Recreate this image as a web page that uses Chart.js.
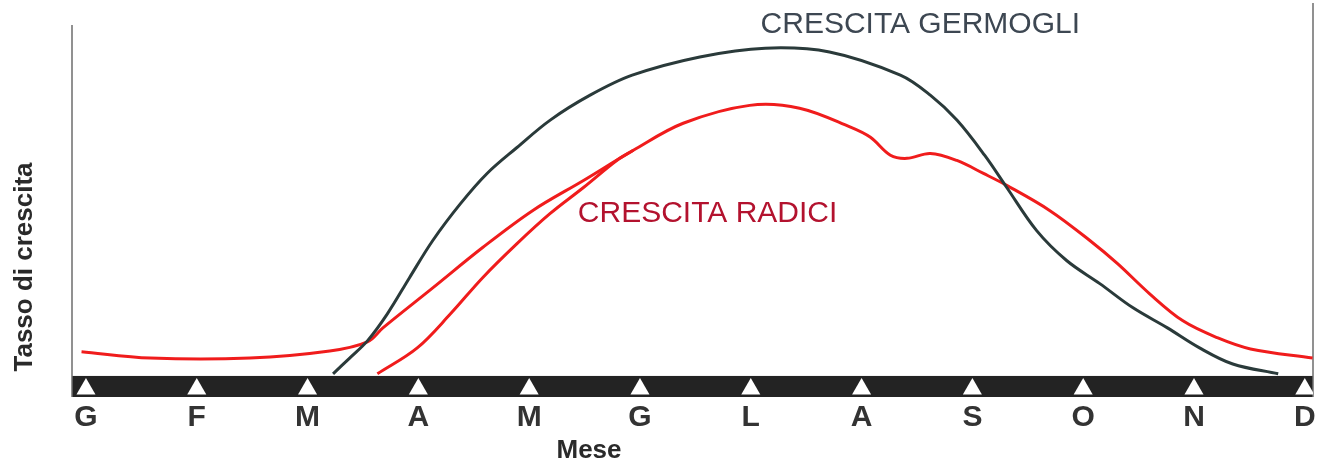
<!DOCTYPE html>
<html lang="it">
<head>
   <meta charset="UTF-8">
   <title>Crescita germogli e radici</title>
   <script src="https://cdn.jsdelivr.net/npm/chart.js"></script>
   <style>
      body {
         margin: 0;
         padding: 0;
         background: #fff;
      }
      .wrap {
         width: 1326px;
         height: 464px;
      }
   </style>
</head>
<body>
   <div class="wrap">
      <canvas id="growthChart" width="1326" height="464"></canvas>
   </div>

   <script>
      // months (index 0 = G ... 11 = D)
      const months = ["G", "F", "M", "A", "M", "G", "L", "A", "S", "O", "N", "D"];

      // shoot growth (crescita germogli), x = month index, y = rate
      const germogliX = [2.23, 2.38, 2.54, 2.72, 2.92, 3.13, 3.38, 3.62, 3.89, 4.19, 4.55, 4.93, 5.54, 6.13, 6.71, 7.35, 7.62, 7.86, 8.11, 8.31, 8.58, 8.85, 9.15, 9.45, 9.76, 10.05, 10.35, 10.76];
      const germogliY = [0.6, 5.1, 10, 17.7, 28, 38.6, 49.1, 57.7, 65.1, 72.9, 80, 85.7, 90.9, 93.4, 92.3, 85.7, 80, 72.9, 62.9, 53.7, 41.4, 32.9, 26.3, 19.4, 13.7, 8, 3.4, 0.6];

      // root growth (crescita radici), full year curve
      const radiciX = [-0.04, 0.58, 1.48, 2.2, 2.54, 2.68, 3.13, 3.58, 4.03, 4.49, 4.94, 5.39, 5.99, 6.44, 6.9, 7.08, 7.26, 7.41, 7.62, 7.86, 8.1, 8.31, 8.7, 9.06, 9.31, 9.6, 9.9, 10.21, 10.51, 11.07];
      const radiciY = [6.9, 5.1, 5.1, 7.1, 9.7, 13.7, 25.1, 36.6, 47.1, 55.7, 64.3, 72, 77.1, 76.3, 70.9, 68, 62.9, 62, 63.4, 61.4, 57.7, 54.3, 47.1, 38.6, 32, 23.4, 15.7, 10.9, 7.7, 5.1];

      // second root branch, starting in spring
      const radici2X = [2.63, 2.99, 3.29, 3.58, 3.89, 4.19, 4.49, 4.79, 4.94];
      const radici2Y = [0.6, 8, 17.7, 28, 37.7, 46.3, 53.7, 61.4, 64.3];

      // white month markers inside the black band
      const markerY = -3.7;

      const toPoints = (xs, ys) => xs.map((x, i) => ({ x: x, y: ys[i] }));
      const FONT = "'Liberation Sans', Arial, sans-serif";

      // black band, frame lines and free texts
      const decor = {
         id: 'decor',
         beforeDatasetsDraw(chart) {
            const { ctx, chartArea, scales } = chart;
            const y0 = scales.y.getPixelForValue(0);
            ctx.save();
            ctx.fillStyle = '#232323';
            ctx.fillRect(chartArea.left, y0, chartArea.right - chartArea.left, chartArea.bottom - y0);
            ctx.strokeStyle = '#6e6e6e';
            ctx.lineWidth = 1.5;
            ctx.beginPath();
            ctx.moveTo(chartArea.left, chartArea.top);
            ctx.lineTo(chartArea.left, chartArea.bottom);
            ctx.moveTo(chartArea.right, 3);
            ctx.lineTo(chartArea.right, chartArea.bottom);
            ctx.stroke();
            ctx.restore();
         },
         afterDraw(chart) {
            const { ctx, scales } = chart;
            const x = scales.x, y = scales.y;
            ctx.save();
            ctx.textAlign = 'center';
            ctx.textBaseline = 'middle';

            ctx.font = '30px ' + FONT;
            ctx.fillStyle = '#3d4752';
            ctx.fillText('CRESCITA GERMOGLI', x.getPixelForValue(7.53), 25);
            ctx.fillStyle = '#b3122e';
            ctx.fillText('CRESCITA RADICI', x.getPixelForValue(5.61), y.getPixelForValue(46.3));

            ctx.font = 'bold 26px ' + FONT;
            ctx.fillStyle = '#2a2a2a';
            ctx.fillText('Mese', 589, 451);

            ctx.translate(25, 267);
            ctx.rotate(-Math.PI / 2);
            ctx.fillText('Tasso di crescita', 0, 0);
            ctx.restore();
         }
      };

      new Chart(document.getElementById('growthChart'), {
         type: 'line',
         data: {
            datasets: [
               {
                  label: 'Crescita germogli',
                  data: toPoints(germogliX, germogliY),
                  borderColor: '#2a3a3a',
                  borderWidth: 3,
                  pointRadius: 0,
                  tension: 0.35,
                  fill: false
               },
               {
                  label: 'Crescita radici',
                  data: toPoints(radiciX, radiciY),
                  borderColor: '#f01c1c',
                  borderWidth: 3,
                  pointRadius: 0,
                  tension: 0.35,
                  fill: false
               },
               {
                  label: 'Crescita radici (2)',
                  data: toPoints(radici2X, radici2Y),
                  borderColor: '#f01c1c',
                  borderWidth: 3,
                  pointRadius: 0,
                  tension: 0.35,
                  fill: false
               },
               {
                  label: 'Mesi',
                  data: months.map((m, i) => ({ x: i, y: markerY })),
                  showLine: false,
                  pointStyle: 'triangle',
                  pointRadius: 11,
                  pointBackgroundColor: '#ffffff',
                  pointBorderWidth: 0,
                  order: -1
               }
            ]
         },
         options: {
            responsive: false,
            animation: false,
            layout: { padding: { left: 72, right: 13, top: 25, bottom: 25 } },
            plugins: {
               legend: { display: false },
               tooltip: { enabled: false }
            },
            scales: {
               x: {
                  type: 'linear',
                  min: -0.126,
                  max: 11.074,
                  grid: { display: false, drawTicks: false },
                  border: { display: false },
                  afterBuildTicks: (axis) => {
                     axis.ticks = months.map((m, i) => ({ value: i }));
                  },
                  ticks: {
                     autoSkip: false,
                     maxRotation: 0,
                     padding: 3,
                     color: '#333',
                     font: { family: FONT, size: 30, weight: 'bold' },
                     callback: (value) => months[value]
                  }
               },
               y: {
                  display: false,
                  min: -6,
                  max: 100
               }
            }
         },
         plugins: [decor]
      });
   </script>
</body>
</html>
